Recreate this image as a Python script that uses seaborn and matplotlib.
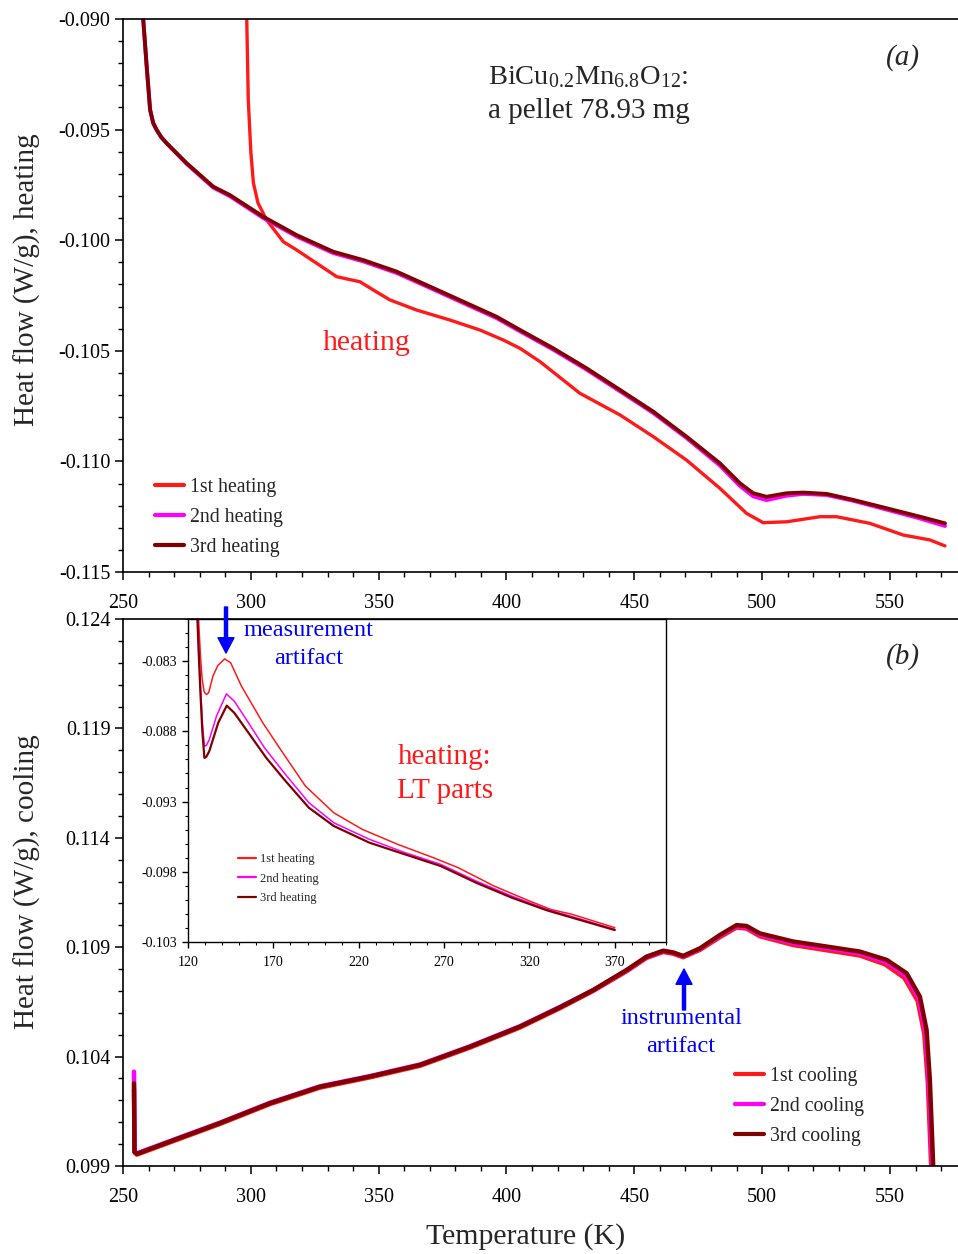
import matplotlib
matplotlib.use("Agg")
import matplotlib.pyplot as plt
from matplotlib.lines import Line2D
from matplotlib.ticker import FixedLocator, MultipleLocator, FormatStrFormatter
import seaborn as sns
import pandas as pd

# ---------------- data ----------------
# panel (a): heating runs, temperature (K) and heat flow (W/g)
T_heat1 = [297.9, 298.4, 299.0, 300.0, 301.0, 302.8, 306.2, 312.7, 317.9, 325.7, 333.6, 342.7,
           347.9, 354.4, 364.9, 377.9, 389.6, 398.7, 405.3, 413.1, 428.7, 444.4, 457.4, 470.4,
           483.5, 493.9, 500.4, 509.6, 522.6, 529.1, 542.1, 555.2, 565.6, 571.5]
v_heat1 = [-0.0885, -0.0900, -0.09366, -0.0960, -0.09741, -0.09832, -0.09909, -0.10007, -0.10044,
           -0.10104, -0.10165, -0.10188, -0.10225, -0.10270, -0.10316, -0.10361, -0.10406, -0.10451,
           -0.10489, -0.10549, -0.10692, -0.10790, -0.10888, -0.10994, -0.11122, -0.11235, -0.11277,
           -0.11273, -0.11250, -0.11250, -0.11280, -0.11333, -0.11355, -0.11382]

T_heat23 = [257.5, 257.9, 259.3, 260.6, 261.8, 263.2, 265.0, 267.1, 274.9, 285.3, 291.8, 304.9,
            317.9, 332.2, 344.0, 357.0, 370.1, 383.1, 396.1, 405.3, 418.3, 431.3, 444.4, 457.4,
            470.4, 483.5, 491.3, 496.5, 501.7, 509.6, 516.1, 525.2, 535.6, 548.7, 561.7, 571.5]
v_heat2 = [-0.0885, -0.0900, -0.0922, -0.0941, -0.0947, -0.09502, -0.09535, -0.09562, -0.09655,
           -0.09762, -0.09801, -0.09900, -0.09983, -0.10058, -0.10096, -0.10148, -0.10216, -0.10284,
           -0.10352, -0.10412, -0.10495, -0.10585, -0.10683, -0.10781, -0.10894, -0.11019, -0.11111,
           -0.11158, -0.11175, -0.11155, -0.11147, -0.11152, -0.11178, -0.11218, -0.11258, -0.11292]
v_heat3 = [-0.0885, -0.0900, -0.0922, -0.0941, -0.0947, -0.09502, -0.09535, -0.09562, -0.09652,
           -0.09758, -0.09796, -0.09894, -0.09977, -0.10052, -0.10090, -0.10142, -0.10210, -0.10278,
           -0.10346, -0.10406, -0.10489, -0.10579, -0.10677, -0.10775, -0.10888, -0.11009, -0.11099,
           -0.11144, -0.11160, -0.11144, -0.11141, -0.11147, -0.11174, -0.11212, -0.11250, -0.11280]

# panel (b): cooling runs
T_cool3 = [254.3, 254.5, 255.4, 268.4, 287.9, 307.5, 327.0, 346.6, 366.2, 385.7, 405.3, 420.9,
           433.9, 447.0, 454.8, 461.3, 465.2, 469.1, 475.7, 483.5, 490.0, 493.9, 499.1, 512.1,
           525.2, 538.2, 548.7, 556.5, 561.7, 564.3, 565.6, 566.9, 567.3]
v_cool3 = [0.10278, 0.09965, 0.09955, 0.10012, 0.10096, 0.10187, 0.10262, 0.10309, 0.10362,
           0.10445, 0.10537, 0.10625, 0.10704, 0.10796, 0.10857, 0.10884, 0.10876, 0.10860,
           0.10895, 0.10956, 0.11001, 0.10997, 0.10963, 0.10926, 0.10903, 0.10880, 0.10842,
           0.10781, 0.10674, 0.10522, 0.10293, 0.09900, 0.09800]
T_cool2 = [254.3, 254.5, 255.4, 268.4, 287.9, 307.5, 327.0, 346.6, 366.2, 385.7, 405.3, 420.9,
           433.9, 447.0, 454.8, 461.3, 465.2, 469.1, 475.7, 483.5, 490.0, 493.9, 499.1, 512.1,
           525.2, 538.2, 548.4, 556.1, 561.3, 563.9, 565.2, 566.5, 566.9]
v_cool2 = [0.10331, 0.09968, 0.09958, 0.10014, 0.10098, 0.10189, 0.10264, 0.10311, 0.10364,
           0.10447, 0.10539, 0.10627, 0.10704, 0.10794, 0.10855, 0.10882, 0.10874, 0.10858,
           0.10893, 0.10952, 0.10996, 0.10992, 0.10957, 0.10919, 0.10896, 0.10872, 0.10833,
           0.10772, 0.10665, 0.10515, 0.10290, 0.09900, 0.09800]
T_cool1 = [254.3, 254.5, 255.4, 268.4, 287.9, 307.5, 327.0, 346.6, 366.2, 385.7, 405.3, 420.9,
           433.9, 447.0, 454.8, 461.3, 465.2, 469.1, 475.7, 483.5, 490.0, 493.9, 499.1, 512.1,
           525.2, 538.2, 548.0, 555.6, 560.8, 563.4, 564.8, 566.1, 566.5]
v_cool1 = [0.10250, 0.09962, 0.09952, 0.10008, 0.10092, 0.10183, 0.10258, 0.10305, 0.10358,
           0.10441, 0.10533, 0.10621, 0.10700, 0.10790, 0.10851, 0.10878, 0.10870, 0.10854,
           0.10888, 0.10946, 0.10990, 0.10985, 0.10950, 0.10910, 0.10886, 0.10862, 0.10822,
           0.10760, 0.10655, 0.10505, 0.10280, 0.09900, 0.09800]

# inset: low-temperature parts of heating runs
T_lt1 = [125.8, 126.6, 127.4, 128.3, 129.5, 130.9, 132.1, 134.6, 137.5, 141.5, 145.0, 151.3,
         163.8, 174.2, 188.8, 205.4, 222.1, 242.9, 263.8, 278.3, 299.2, 320.0, 332.5, 345.0, 370.0]
v_lt1 = [-0.0790, -0.0810, -0.0828, -0.0843, -0.0852, -0.08538, -0.08525, -0.08407, -0.08330,
         -0.08284, -0.08312, -0.08478, -0.08739, -0.08929, -0.0919, -0.0938, -0.09498, -0.09605,
         -0.0970, -0.09771, -0.09901, -0.10008, -0.10068, -0.10103, -0.10198]
T_lt2 = [125.3, 126.3, 127.4, 128.5, 129.6, 130.8, 132.5, 136.7, 142.5, 147.1, 155.4, 164.8,
         176.3, 190.8, 205.4, 226.3, 247.1, 268.0, 288.8, 309.6, 330.4, 347.1, 370.0]
v_lt2 = [-0.0790, -0.0820, -0.0850, -0.0875, -0.08906, -0.0890, -0.08858, -0.08691, -0.08533,
         -0.08585, -0.08739, -0.08917, -0.09095, -0.09308, -0.09451, -0.09569, -0.09664, -0.09747,
         -0.09866, -0.09973, -0.10068, -0.10127, -0.1021]
T_lt3 = [125.2, 126.2, 127.3, 128.4, 129.6, 130.8, 132.5, 137.7, 142.7, 147.1, 155.4, 165.8,
         176.3, 190.8, 205.4, 226.3, 247.1, 268.0, 288.8, 309.6, 330.4, 347.1, 370.0]
v_lt3 = [-0.0790, -0.0822, -0.0853, -0.0880, -0.08989, -0.0898, -0.0894, -0.08739, -0.08617,
         -0.08668, -0.0881, -0.08988, -0.09142, -0.09344, -0.09474, -0.09593, -0.09676, -0.09759,
         -0.09878, -0.09984, -0.10075, -0.10134, -0.10215]

heat_labels = ["1st heating", "2nd heating", "3rd heating"]
cool_labels = ["1st cooling", "2nd cooling", "3rd cooling"]
colors = ["#FF1A1A", "#FF00FF", "#800000"]

x_ticks = [250, 300, 350, 400, 450, 500, 550]
ya_ticks = [-0.115, -0.110, -0.105, -0.100, -0.095, -0.090]
yb_ticks = [0.099, 0.104, 0.109, 0.114, 0.119, 0.124]
xi_ticks = [120, 170, 220, 270, 320, 370]
yi_ticks = [-0.103, -0.098, -0.093, -0.088, -0.083]

# ---------------- style ----------------
sns.set_theme(style="ticks")
plt.rcParams["font.family"] = ["Liberation Serif", "DejaVu Serif"]
plt.rcParams["mathtext.fontset"] = "custom"
plt.rcParams["mathtext.rm"] = "Liberation Serif"
plt.rcParams["mathtext.it"] = "Liberation Serif:italic"
plt.rcParams["axes.unicode_minus"] = False

W, H = 958, 1254
fig = plt.figure(figsize=(W / 100, H / 100), dpi=100)


def fbox(l, t, r, b):
    return [l / W, 1 - b / H, (r - l) / W, (b - t) / H]


def fxy(x, y):
    return (x / W, 1 - y / H)


ax_a = fig.add_axes(fbox(123, 19, 958, 572))
ax_b = fig.add_axes(fbox(123, 619, 958, 1166))
ax_i = fig.add_axes(fbox(188, 619, 666, 942))


def draw(ax, T, v, color, lw, label):
    df = pd.DataFrame({"T": T, "v": v})
    sns.lineplot(data=df, x="T", y="v", color=color, lw=lw, sort=False,
                 estimator=None, ax=ax, label=label, legend=False)


draw(ax_a, T_heat1, v_heat1, colors[0], 2.4, heat_labels[0])
draw(ax_a, T_heat23, v_heat2, colors[1], 2.8, heat_labels[1])
draw(ax_a, T_heat23, v_heat3, colors[2], 2.8, heat_labels[2])

draw(ax_b, T_cool1, v_cool1, colors[0], 3.2, cool_labels[0])
draw(ax_b, T_cool2, v_cool2, colors[1], 3.2, cool_labels[1])
draw(ax_b, T_cool3, v_cool3, colors[2], 3.2, cool_labels[2])

draw(ax_i, T_lt1, v_lt1, colors[0], 1.1, heat_labels[0])
draw(ax_i, T_lt2, v_lt2, colors[1], 1.1, heat_labels[1])
draw(ax_i, T_lt3, v_lt3, colors[2], 1.6, heat_labels[2])

# ---------------- axes formatting ----------------
for ax, yt in [(ax_a, ya_ticks), (ax_b, yb_ticks)]:
    ax.set_xlim(250, 576.6)
    ax.set_ylim(yt[0], yt[-1])
    ax.xaxis.set_major_locator(FixedLocator(x_ticks))
    ax.xaxis.set_minor_locator(MultipleLocator(10))
    ax.yaxis.set_major_locator(FixedLocator(yt))
    ax.yaxis.set_minor_locator(MultipleLocator(0.001))
    ax.yaxis.set_major_formatter(FormatStrFormatter("%.3f"))
    ax.spines["right"].set_visible(False)
    for s in ["left", "bottom", "top"]:
        ax.spines[s].set_linewidth(1.2)
        ax.spines[s].set_color("black")
    ax.tick_params(which="major", direction="out", length=6, width=1.1, labelsize=14.5,
                   colors="black")
    ax.tick_params(axis="x", which="major", pad=10)
    ax.tick_params(axis="y", which="major", pad=3)
    ax.tick_params(which="minor", direction="out", length=3.5, width=1.0, colors="black")
    ax.set_xlabel("")
    ax.set_ylabel("")

ax_i.set_xlim(120, 400)
ax_i.set_ylim(-0.103, -0.080)
ax_i.xaxis.set_major_locator(FixedLocator(xi_ticks))
ax_i.xaxis.set_minor_locator(MultipleLocator(10))
ax_i.yaxis.set_major_locator(FixedLocator(yi_ticks))
ax_i.yaxis.set_minor_locator(MultipleLocator(0.001))
ax_i.yaxis.set_major_formatter(FormatStrFormatter("%.3f"))
for s in ax_i.spines.values():
    s.set_linewidth(1.0)
    s.set_color("black")
ax_i.tick_params(which="major", direction="out", length=4, width=1.0, labelsize=10, pad=6,
                 colors="black")
ax_i.tick_params(axis="y", which="major", pad=4)
ax_i.tick_params(which="minor", direction="out", length=2.5, width=0.8, colors="black")
ax_i.set_xlabel("")
ax_i.set_ylabel("")

fig.text(*fxy(27, 280), "Heat flow (W/g), heating", rotation=90, ha="center", va="center",
         fontsize=21)
fig.text(*fxy(27, 882), "Heat flow (W/g), cooling", rotation=90, ha="center", va="center",
         fontsize=21)
fig.text(*fxy(526, 1237), "Temperature (K)", ha="center", va="center", fontsize=21.5)

# ---------------- legends ----------------
def legend(ax, labels, lw, fs, x, y, hl, ls):
    handles = [Line2D([], [], color=c, lw=lw) for c in colors]
    lg = ax.legend(handles, labels, loc="upper left", bbox_to_anchor=fxy(x, y),
                   bbox_transform=fig.transFigure, frameon=False, fontsize=fs,
                   handlelength=hl, handletextpad=0.35, labelspacing=ls,
                   borderpad=0, borderaxespad=0)
    return lg


legend(ax_a, heat_labels, 3.0, 14.2, 155, 478, 1.45, 0.55)
legend(ax_b, cool_labels, 3.0, 14.2, 735, 1067, 1.45, 0.55)
legend(ax_i, heat_labels, 1.6, 9, 238, 853, 1.45, 0.62)

# ---------------- annotations ----------------
fig.text(*fxy(488, 77), r"BiCu$_{\mathrm{0.2}}$Mn$_{\mathrm{6.8}}$O$_{\mathrm{12}}$:",
         ha="left", va="center", fontsize=20.5)
fig.text(*fxy(488, 111), "a pellet 78.93 mg", ha="left", va="center", fontsize=21)
fig.text(*fxy(903, 58), "(a)", ha="center", va="center", fontsize=21, style="italic")
fig.text(*fxy(903, 657), "(b)", ha="center", va="center", fontsize=21, style="italic")
fig.text(*fxy(367, 343), "heating", ha="center", va="center", fontsize=21.5, color="#FF1A1A")

fig.text(*fxy(309, 630), "measurement", ha="center", va="center", fontsize=17.5, color="#0000FF")
fig.text(*fxy(309, 658), "artifact", ha="center", va="center", fontsize=17.5, color="#0000FF")
fig.text(*fxy(445, 757), "heating:", ha="center", va="center", fontsize=21, color="#FF1A1A")
fig.text(*fxy(445, 791), "LT parts", ha="center", va="center", fontsize=21, color="#FF1A1A")
fig.text(*fxy(681, 1018), "instrumental", ha="center", va="center", fontsize=17.5,
         color="#0000FF")
fig.text(*fxy(681, 1046), "artifact", ha="center", va="center", fontsize=17.5, color="#0000FF")

arrow = dict(facecolor="#0000FF", edgecolor="#0000FF", width=2.2, headwidth=11.5,
             headlength=11, shrink=0)
fig.add_artist(plt.Annotation("", xy=fxy(226, 653), xytext=fxy(226, 607),
                              xycoords=fig.transFigure, textcoords=fig.transFigure,
                              arrowprops=arrow))
fig.add_artist(plt.Annotation("", xy=fxy(684, 969), xytext=fxy(684, 1010),
                              xycoords=fig.transFigure, textcoords=fig.transFigure,
                              arrowprops=arrow))

fig.savefig("out.png", dpi=100)
